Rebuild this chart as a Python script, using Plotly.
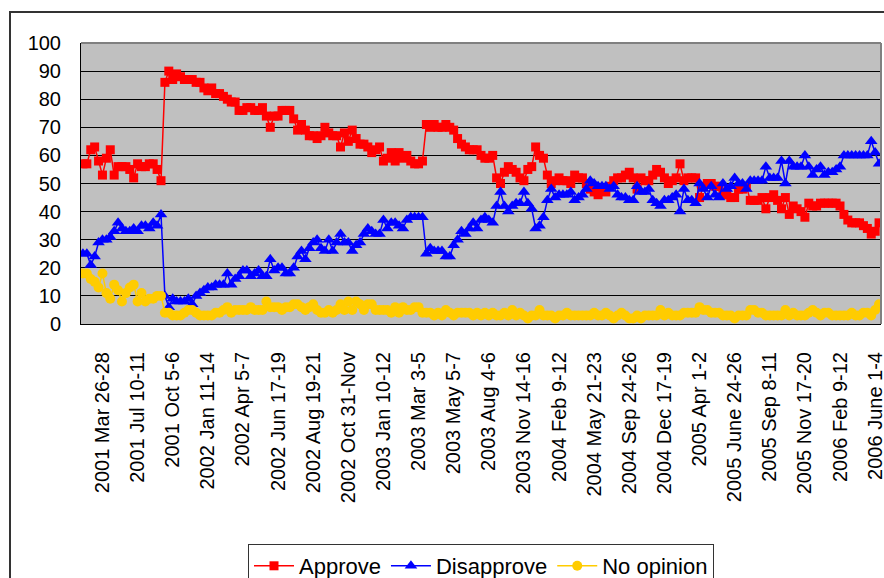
import plotly.graph_objects as go

# Gallup presidential job approval, Feb 2001 - Jun 2006 (one value per poll)
approve = [
    57, 57, 62, 63, 58, 53, 59, 62, 53, 56,
    56, 56, 55, 52, 57, 56, 56, 57, 57, 55,
    51, 86, 90, 87, 89, 88, 87, 87, 87, 86,
    86, 84, 83, 84, 82, 82, 81, 80, 79, 79,
    76, 76, 77, 77, 76, 76, 77, 74, 70, 74,
    74, 76, 76, 76, 73, 69, 71, 69, 67, 67,
    66, 67, 70, 68, 67, 67, 63, 68, 65, 69,
    66, 64, 64, 63, 61, 62, 63, 58, 59, 61,
    58, 61, 59, 60, 58, 57, 57, 58, 71, 70,
    71, 70, 70, 71, 70, 69, 66, 64, 63, 62,
    62, 62, 60, 59, 59, 60, 52, 50, 54, 56,
    55, 54, 52, 51, 55, 56, 63, 60, 59, 53,
    50, 51, 52, 51, 51, 50, 53, 52, 52, 50,
    48, 47, 46, 48, 47, 49, 51, 52, 52, 53,
    54, 52, 48, 52, 51, 51, 53, 55, 54, 52,
    50, 51, 52, 57, 51, 52, 52, 52, 45, 49,
    50, 50, 49, 49, 46, 46, 45, 45, 48, 48,
    49, 44, 44, 44, 45, 41, 45, 46, 44, 41,
    45, 39, 42, 41, 40, 38, 43, 42, 42, 43,
    43, 43, 43, 43, 42, 39, 37, 36, 36, 36,
    35, 34, 32, 33, 36,
]

disapprove = [
    25, 25, 21, 24, 29, 30, 30, 31, 33, 36,
    34, 33, 33, 34, 33, 35, 35, 34, 36, 35,
    39, 10, 6, 9, 8, 8, 8, 9, 7, 10,
    11, 12, 13, 13, 14, 14, 14, 18, 14, 16,
    17, 19, 19, 17, 18, 19, 17, 17, 23, 19,
    20, 20, 18, 18, 20, 24, 26, 23, 27, 29,
    30, 27, 26, 30, 26, 29, 32, 29, 29, 26,
    28, 29, 32, 34, 33, 32, 32, 37, 34, 36,
    36, 35, 34, 37, 38, 38, 38, 38, 25, 27,
    26, 26, 26, 24, 24, 28, 30, 33, 32, 34,
    36, 34, 37, 38, 37, 36, 42, 47, 42, 40,
    42, 43, 43, 47, 43, 41, 34, 35, 38, 44,
    48, 45, 46, 46, 46, 47, 44, 45, 46, 48,
    51, 50, 49, 49, 49, 48, 49, 46, 45, 45,
    44, 44, 49, 47, 47, 48, 44, 43, 42, 44,
    44, 45, 46, 40, 48, 44, 44, 43, 50, 48,
    45, 49, 46, 45, 50, 48, 49, 52, 50, 50,
    48, 51, 51, 51, 51, 56, 52, 52, 52, 58,
    50, 58, 56, 56, 56, 60, 56, 53, 55, 56,
    53, 54, 54, 55, 56, 60, 60, 60, 60, 60,
    60, 60, 65, 61, 57,
]

no_opinion = [
    18, 18, 16, 15, 13, 18, 11, 9, 14, 12,
    8, 11, 13, 14, 8, 11, 8, 9, 9, 10,
    10, 4, 4, 3, 3, 3, 4, 5, 5, 4,
    3, 3, 3, 3, 4, 4, 5, 6, 4, 5,
    5, 5, 5, 6, 5, 5, 5, 8, 6, 6,
    6, 5, 6, 6, 7, 7, 6, 5, 6, 7,
    5, 4, 4, 5, 4, 5, 7, 5, 8, 5,
    8, 7, 5, 7, 7, 5, 5, 5, 5, 4,
    6, 4, 6, 5, 5, 6, 6, 4, 4, 4,
    3, 4, 3, 5, 4, 3, 4, 4, 4, 4,
    3, 4, 3, 4, 3, 4, 3, 3, 4, 3,
    5, 3, 4, 3, 2, 3, 3, 5, 3, 3,
    3, 2, 3, 3, 4, 3, 3, 3, 3, 3,
    3, 4, 3, 3, 4, 3, 2, 3, 4, 3,
    2, 2, 3, 2, 3, 3, 3, 3, 5, 3,
    4, 3, 3, 3, 4, 4, 4, 4, 6, 5,
    5, 4, 4, 4, 3, 3, 3, 2, 3, 3,
    3, 5, 5, 4, 4, 3, 3, 3, 3, 3,
    5, 3, 4, 3, 3, 3, 4, 5, 4, 3,
    4, 4, 3, 3, 3, 3, 3, 4, 3, 3,
    4, 4, 3, 5, 7,
]

# Category labels shown on the axis (every 9th poll, starting with the 6th)
tick_labels = [
    "2001 Mar 26-28", "2001 Jul 10-11", "2001 Oct 5-6", "2002 Jan 11-14",
    "2002 Apr 5-7", "2002 Jun 17-19", "2002 Aug 19-21", "2002 Oct 31-Nov",
    "2003 Jan 10-12", "2003 Mar 3-5", "2003 May 5-7", "2003 Aug 4-6",
    "2003 Nov 14-16", "2004 Feb 9-12", "2004 May 21-23", "2004 Sep 24-26",
    "2004 Dec 17-19", "2005 Apr 1-2", "2005 June 24-26", "2005 Sep 8-11",
    "2005 Nov 17-20", "2006 Feb 9-12", "2006 June 1-4",
]
LABEL_START, LABEL_STEP = 5, 9

n = len(approve)
x = list(range(n))
tickvals = [LABEL_START + LABEL_STEP * k for k in range(len(tick_labels))]

FONT = "Liberation Sans, Arial, sans-serif"

fig = go.Figure()
fig.add_trace(go.Scatter(
    x=x, y=approve, name="Approve", mode="lines+markers",
    line=dict(color="#FF0000", width=1.5),
    marker=dict(symbol="square", size=9, color="#FF0000"),
))
fig.add_trace(go.Scatter(
    x=x, y=disapprove, name="Disapprove", mode="lines+markers",
    line=dict(color="#0000FF", width=1.5),
    marker=dict(symbol="triangle-up", size=11, color="#0000FF"),
))
fig.add_trace(go.Scatter(
    x=x, y=no_opinion, name="No opinion", mode="lines+markers",
    line=dict(color="#FFCC00", width=1.5),
    marker=dict(symbol="circle", size=10, color="#FFCC00"),
))

W, H = 884, 578
ml, mr, mt, mb = 81, 3, 43, 254
ph = H - mt - mb
pw = W - ml - mr

def py(pix):
    return (H - mb - pix) / ph

def px(pix):
    return (pix - ml) / pw

fig.update_layout(
    width=W, height=H,
    margin=dict(l=ml, r=mr, t=mt, b=mb, autoexpand=False),
    paper_bgcolor="white",
    plot_bgcolor="#C0C0C0",
    font=dict(family=FONT, size=20, color="black"),
    showlegend=True,
    legend=dict(
        orientation="h", x=0.5, xanchor="center", y=py(544), yanchor="top",
        bordercolor="#333333", borderwidth=1, bgcolor="white",
        font=dict(family=FONT, size=22, color="black"),
        itemwidth=40, tracegroupgap=0,
    ),
    xaxis=dict(
        range=[-0.5, n - 0.5], tickmode="array", tickvals=tickvals,
        ticktext=tick_labels, tickangle=-90, showgrid=False, zeroline=False,
        showline=True, linecolor="black", linewidth=1, ticks="",
        tickfont=dict(family=FONT, size=20, color="black"),
        ticklabelstandoff=19, ticklabeloverflow="allow",
    ),
    yaxis=dict(
        range=[0, 100], dtick=10, showgrid=True, gridcolor="black",
        gridwidth=1, zeroline=False, showline=True, linecolor="black",
        linewidth=1, ticks="",
        tickfont=dict(family=FONT, size=20, color="black"),
        ticklabelstandoff=15,
    ),
    shapes=[
        dict(type="line", xref="paper", yref="paper", x0=0, x1=1, y0=1, y1=1,
             line=dict(color="#808080", width=2)),
        dict(type="line", xref="paper", yref="paper", x0=1, x1=1, y0=0, y1=1,
             line=dict(color="#808080", width=2)),
        dict(type="rect", xref="paper", yref="paper",
             x0=px(10), x1=px(900), y0=py(600), y1=py(12),
             line=dict(color="#333333", width=2), fillcolor="rgba(0,0,0,0)"),
    ],
)

fig.write_html(
    "out.html",
    config={"displayModeBar": False},
    post_script="document.body.style.margin='0';document.body.style.padding='0';",
)
